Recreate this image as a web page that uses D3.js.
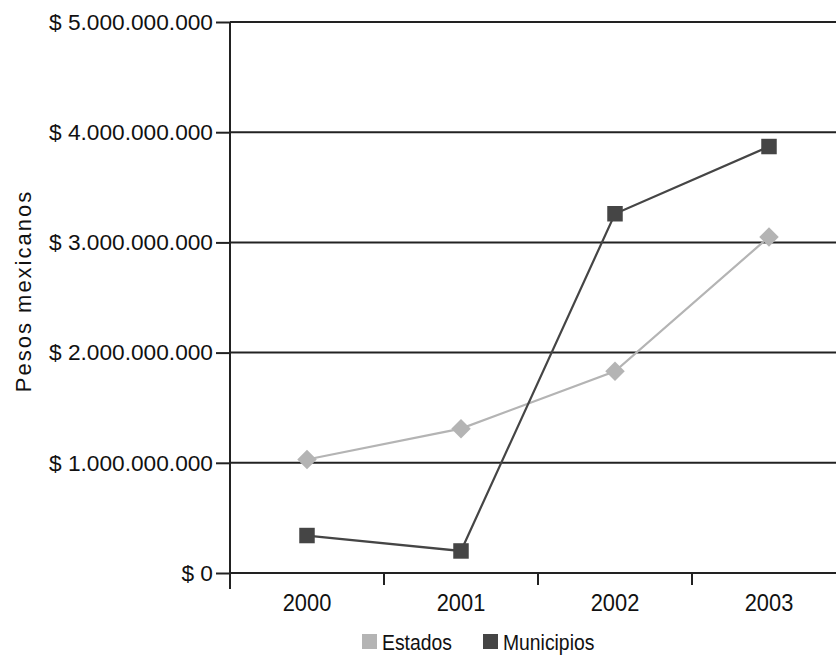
<!DOCTYPE html>
<html>
<head>
<meta charset="utf-8">
<script src="https://cdn.jsdelivr.net/npm/d3@7"></script>
<style>
  html, body { margin: 0; padding: 0; background: #fff; }
  svg { display: block; font-family: "Liberation Sans", Arial, sans-serif; }
</style>
</head>
<body>
<svg id="chart" width="836" height="657"></svg>
<script>
const years = ["2000", "2001", "2002", "2003"];
const estados = [1.03e9, 1.31e9, 1.83e9, 3.05e9];
const municipios = [0.34e9, 0.20e9, 3.26e9, 3.87e9];
const yTicks = [0, 1e9, 2e9, 3e9, 4e9, 5e9];
const seriesNames = ["Estados", "Municipios"];
const seriesColors = ["#b4b4b4", "#454545"];

const svg = d3.select("#chart");
const x = d3.scaleBand().domain(years).range([230, 846]).padding(0);
const y = d3.scaleLinear().domain([0, 5e9]).range([573, 22]);

const loc = d3.formatLocale({decimal: ",", thousands: ".", grouping: [3], currency: ["$ ", ""]});
const fmt = loc.format("$,");

// gridlines
svg.append("g").selectAll("line").data(yTicks.filter(d => d > 0)).join("line")
  .attr("x1", 230).attr("x2", 836)
  .attr("y1", d => y(d)).attr("y2", d => y(d))
  .attr("stroke", "#222").attr("stroke-width", 2);

// y axis
const yAxis = svg.append("g").attr("transform", "translate(230,0)")
  .call(d3.axisLeft(y).tickValues(yTicks).tickFormat(fmt).tickSize(14).tickPadding(3));
yAxis.select(".domain").attr("stroke", "#222").attr("stroke-width", 2).attr("d", "M0," + y(5e9) + "V589");
yAxis.selectAll(".tick line").attr("stroke", "#222").attr("stroke-width", 2);
yAxis.selectAll(".tick text").attr("font-size", 22.7).attr("fill", "#111")
  .attr("font-family", "Liberation Sans, Arial, sans-serif");

// x axis
const xAxis = svg.append("g").attr("transform", "translate(0,573)")
  .call(d3.axisBottom(x).tickSize(0).tickPadding(22));
xAxis.select(".domain").attr("stroke", "#222").attr("stroke-width", 2).attr("d", "M230,0H846");
xAxis.selectAll(".tick text").attr("font-size", 23).attr("fill", "#111")
  .attr("transform", "scale(0.95,1)");
svg.append("g").selectAll("line").data(years.slice(1)).join("line")
  .attr("x1", d => x(d)).attr("x2", d => x(d))
  .attr("y1", 573).attr("y2", 585)
  .attr("stroke", "#222").attr("stroke-width", 2);

// y title
svg.append("text").attr("transform", "translate(31,291) rotate(-90)")
  .attr("text-anchor", "middle").attr("font-size", 22).attr("letter-spacing", 2)
  .attr("fill", "#111")
  .text("Pesos mexicanos");

// series
const data = [estados, municipios];
const line = d3.line().x((d, i) => x(years[i]) + x.bandwidth() / 2).y(d => y(d));
data.forEach((vals, s) => {
  svg.append("path").datum(vals).attr("d", line)
    .attr("fill", "none").attr("stroke", seriesColors[s]).attr("stroke-width", 2.2);
  svg.append("g").selectAll("path").data(vals).join("path")
    .attr("transform", (d, i) => `translate(${x(years[i]) + x.bandwidth() / 2},${y(d)})` + (s === 0 ? " rotate(45)" : ""))
    .attr("d", d3.symbol().type(d3.symbolSquare).size(s === 0 ? 190 : 240))
    .attr("fill", seriesColors[s]);
});

// legend
const legX = [362, 483];
seriesNames.forEach((n, i) => {
  svg.append("rect").attr("x", legX[i]).attr("y", 634).attr("width", 15).attr("height", 15)
    .attr("fill", seriesColors[i]);
  svg.append("g").attr("transform", `translate(${legX[i] + 20},650)`)
    .append("text").attr("transform", "scale(0.86,1)").attr("font-size", 22.5)
    .attr("fill", "#111").text(n);
});
</script>
</body>
</html>
